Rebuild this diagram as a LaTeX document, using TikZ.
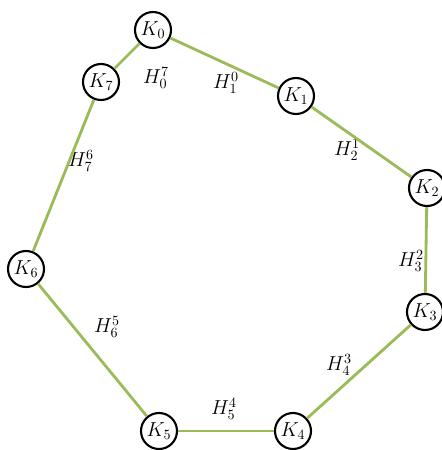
\documentclass[tikz,border=0pt]{standalone}
\usepackage{xcolor}
\usepackage{tikz}
\definecolor{edgegreen}{RGB}{155,187,89}

\begin{document}
\begin{tikzpicture}[
    x=0.025cm, y=-0.025cm,
    knode/.style={circle, draw, line width=1.5pt, fill=white, inner sep=0pt, minimum size=0.9cm, font=\Large},
    hlabel/.style={font=\Large},
    edge/.style={draw=edgegreen, line width=2pt}
]
\useasboundingbox (0,0) rectangle (442,450);
\node[knode] (k0) at (153,30) {$K_0$};
\node[knode] (k1) at (296,96) {$K_1$};
\node[knode] (k2) at (427,188) {$K_2$};
\node[knode] (k3) at (425,312) {$K_3$};
\node[knode] (k4) at (293,431) {$K_4$};
\node[knode] (k5) at (159,431) {$K_5$};
\node[knode] (k6) at (26,269) {$K_6$};
\node[knode] (k7) at (101,82) {$K_7$};
\node[hlabel] (h70) at (156,78) {$H_0^7$};
\node[hlabel] (h01) at (226,83) {$H_1^0$};
\node[hlabel] (h12) at (347,150) {$H_2^1$};
\node[hlabel] (h23) at (411,261) {$H_3^2$};
\node[hlabel] (h34) at (339,365) {$H_4^3$};
\node[hlabel] (h45) at (224,409) {$H_5^4$};
\node[hlabel] (h56) at (107,327) {$H_6^5$};
\node[hlabel] (h67) at (81,161) {$H_7^6$};
\draw[edge] (k0) -- (k1);
\draw[edge] (k1) -- (k2);
\draw[edge] (k2) -- (k3);
\draw[edge] (k3) -- (k4);
\draw[edge] (k4) -- (k5);
\draw[edge] (k5) -- (k6);
\draw[edge] (k6) -- (k7);
\draw[edge] (k7) -- (k0);
\end{tikzpicture}
\end{document}
